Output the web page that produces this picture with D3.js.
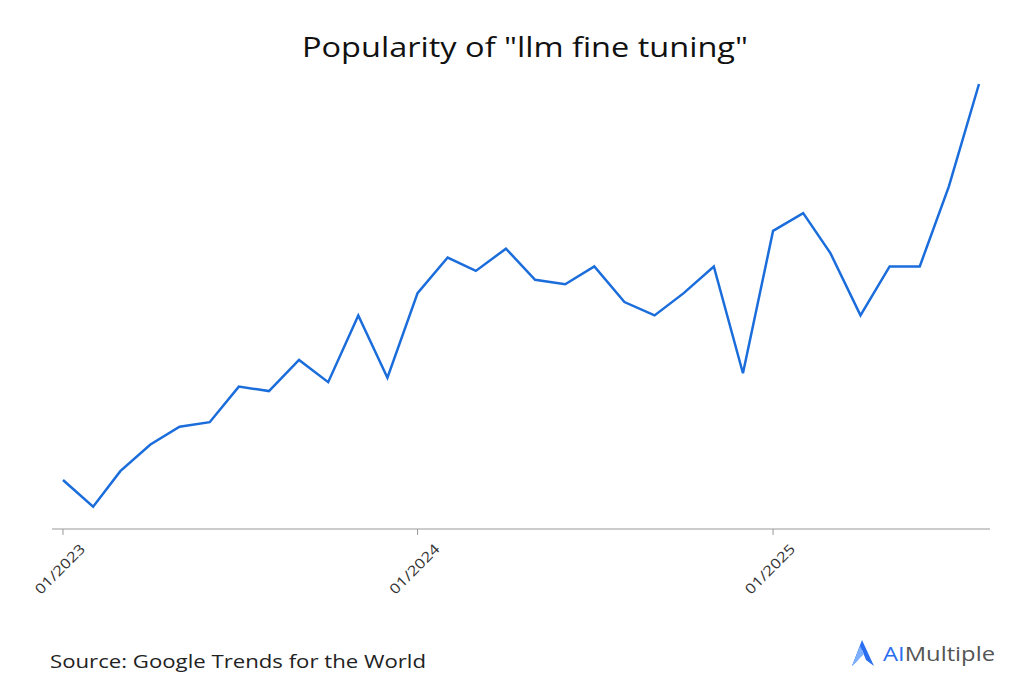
<!DOCTYPE html>
<html><head><meta charset="utf-8">
<script src="https://cdn.jsdelivr.net/npm/d3@7"></script>
<style>body{margin:0;background:#fff;font-family:"Open Sans","Noto Sans",sans-serif}</style>
</head><body><svg id="c" width="1024" height="689"></svg>
<script>
const months = ["2023-01","2023-02","2023-03","2023-04","2023-05","2023-06","2023-07","2023-08","2023-09","2023-10","2023-11","2023-12",
"2024-01","2024-02","2024-03","2024-04","2024-05","2024-06","2024-07","2024-08","2024-09","2024-10","2024-11","2024-12",
"2025-01","2025-02","2025-03","2025-04","2025-05","2025-06","2025-07","2025-08"];
const values = [11,5,13,19,23,24,32,31,38,33,48,34,53,61,58,63,56,55,59,51,48,53,59,35,67,71,62,48,59,59,77,100];
const tickLabels = ["01/2023","01/2024","01/2025"];
const tickDates = ["2023-01","2024-01","2025-01"];
const parse = d3.timeParse("%Y-%m");
const svg = d3.select("#c");
const x = d3.scaleTime().domain([parse("2023-01"), parse("2025-08")]).range([63, 979]);
const y = d3.scaleLinear().domain([0,100]).range([529,84]);
svg.append("text").attr("x",302).attr("y",57).attr("textLength",446).attr("lengthAdjust","spacingAndGlyphs").attr("font-size",27).attr("fill","#111").text('Popularity of "llm fine tuning"');
svg.append("line").attr("x1",52).attr("x2",990).attr("y1",529).attr("y2",529).attr("stroke","#999");
const g = svg.append("g");
tickDates.forEach((d,i)=>{
  const px = x(parse(d));
  g.append("line").attr("x1",px).attr("x2",px).attr("y1",529).attr("y2",535).attr("stroke","#999");
  g.append("text").attr("transform",`translate(${px+23},${550}) rotate(-45)`).attr("text-anchor","end").attr("font-size",14).attr("textLength",64).attr("lengthAdjust","spacingAndGlyphs").attr("fill","#333").text(tickLabels[i]);
});
svg.append("path").datum(values).attr("fill","none").attr("stroke","#1a6ddb").attr("stroke-width",2.5).attr("stroke-linejoin","miter")
  .attr("d", d3.line().x((d,i)=>x(parse(months[i]))).y(d=>y(d)));
svg.append("text").attr("x",50).attr("y",668).attr("textLength",376).attr("lengthAdjust","spacingAndGlyphs").attr("font-size",19).attr("fill","#222").text("Source: Google Trends for the World");
const lg = svg.append("g");
lg.append("path").attr("d","M852,666 L862,640 L874,666 L866,660 L862,650 L858,660 Z").attr("fill","#2a6ef0");
lg.append("path").attr("d","M852,666 L860,646 L864,654 Z").attr("fill","#7fb0ff");
const t = lg.append("text").attr("x",883).attr("y",661).attr("font-size",20).attr("textLength",112).attr("lengthAdjust","spacingAndGlyphs");
t.append("tspan").attr("fill","#2a6ef0").text("AI");
t.append("tspan").attr("fill","#555").text("Multiple");
</script></body></html>
